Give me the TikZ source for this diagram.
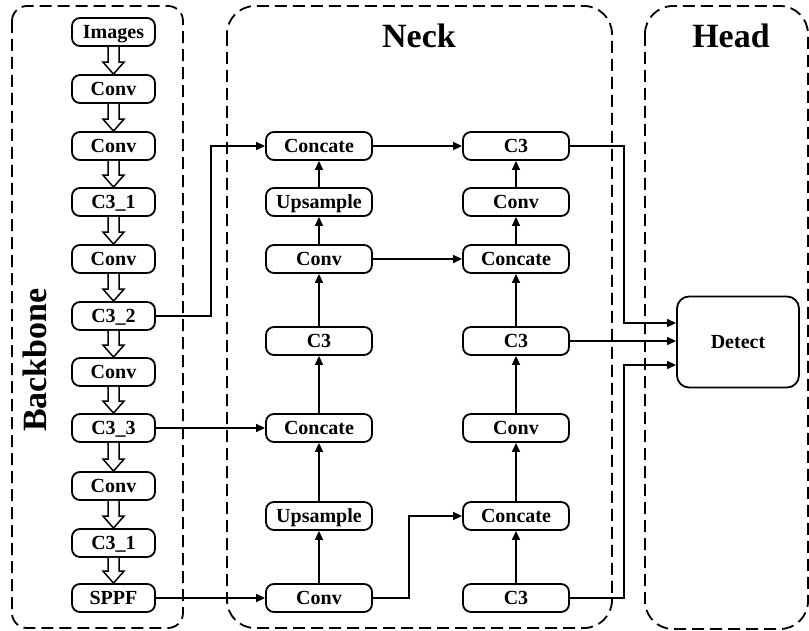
\documentclass[tikz,border=0pt]{standalone}
\usepackage{fontspec}
\setmainfont{Liberation Serif}
\usetikzlibrary{arrows.meta, calc}

\begin{document}
\begin{tikzpicture}[x=0.5pt, y=-0.5pt,
    box/.style={rectangle, draw, line width=0.9pt, rounded corners=4pt,
                minimum width=41.5pt, minimum height=14pt, inner sep=0pt,
                text height=6.8pt, text depth=0pt,
                font=\fontsize{10}{12}\selectfont\bfseries},
    wbox/.style={box, minimum width=53pt},
    frame/.style={line width=0.9pt, dash pattern=on 6pt off 3pt},
    arrow/.style={-{Triangle[length=4.5pt, width=4pt]}, line width=0.7pt},
    hollow/.style={draw, line width=0.75pt, fill=white, line join=miter},
    head/.style={font=\fontsize{17}{20}\selectfont\bfseries},
  ]
  \useasboundingbox (0,0) rectangle (809,631);

  % Column x-centres (pixel units, y grows downwards)
  \def\xB{113.5}  % Backbone
  \def\xN{319}    % Neck, left column
  \def\xM{516}    % Neck, right column

  % ── Frames and titles ───────────────────────────────────────────────
  \draw[frame, rounded corners=7.5pt] (12,6) rectangle (183,628);
  \draw[frame, rounded corners=14pt] (227,6) rectangle (612,628);
  \draw[frame, rounded corners=14pt] (645,6) rectangle (808,629);

  \node[head, rotate=90] (tB) at (35,360) {Backbone};
  \node[head] (tN) at (419,36) {Neck};
  \node[head] (tH) at (731,36) {Head};

  % ── Backbone ────────────────────────────────────────────────────────
  \node[box] (b1)  at (\xB,32)  {Images};
  \node[box] (b2)  at (\xB,89)  {Conv};
  \node[box] (b3)  at (\xB,146) {Conv};
  \node[box] (b4)  at (\xB,202) {C3\_1};
  \node[box] (b5)  at (\xB,259) {Conv};
  \node[box] (b6)  at (\xB,316) {C3\_2};
  \node[box] (b7)  at (\xB,372) {Conv};
  \node[box] (b8)  at (\xB,428) {C3\_3};
  \node[box] (b9)  at (\xB,486) {Conv};
  \node[box] (b10) at (\xB,543) {C3\_1};
  \node[box] (b11) at (\xB,598) {SPPF};

  % hollow block arrows down the backbone
  \foreach \a/\b in {b1/b2, b2/b3, b3/b4, b4/b5, b5/b6, b6/b7, b7/b8,
                     b8/b9, b9/b10, b10/b11}
    \draw[hollow] ($(\a.south)+(-5.5,0)$) -- ($(\b.north)+(-5.5,-12)$)
      -- ($(\b.north)+(-10.5,-12)$) -- (\b.north)
      -- ($(\b.north)+(10.5,-12)$) -- ($(\b.north)+(5.5,-12)$)
      -- ($(\a.south)+(5.5,0)$);

  % ── Neck ────────────────────────────────────────────────────────────
  \node[wbox] (n1) at (\xN,146) {Concate};
  \node[wbox] (n2) at (\xN,202) {Upsample};
  \node[wbox] (n3) at (\xN,259) {Conv};
  \node[wbox] (n4) at (\xN,341) {C3};
  \node[wbox] (n5) at (\xN,428) {Concate};
  \node[wbox] (n6) at (\xN,516) {Upsample};
  \node[wbox] (n7) at (\xN,598) {Conv};

  \node[wbox] (m1) at (\xM,146) {C3};
  \node[wbox] (m2) at (\xM,202) {Conv};
  \node[wbox] (m3) at (\xM,259) {Concate};
  \node[wbox] (m4) at (\xM,341) {C3};
  \node[wbox] (m5) at (\xM,428) {Conv};
  \node[wbox] (m6) at (\xM,516) {Concate};
  \node[wbox] (m7) at (\xM,598) {C3};

  \foreach \a/\b in {n7/n6, n6/n5, n5/n4, n4/n3, n3/n2, n2/n1,
                     m7/m6, m6/m5, m5/m4, m4/m3, m3/m2, m2/m1}
    \draw[arrow] (\a) -- (\b);

  \draw[arrow] (b6.east) -- ++(55,0) |- (n1.west);
  \draw[arrow] (b8.east) -- (n5.west);
  \draw[arrow] (b11.east) -- (n7.west);
  \draw[arrow] (n7.east) -- ++(36,0) |- (m6.west);
  \draw[arrow] (n3.east) -- (m3.west);
  \draw[arrow] (n1.east) -- (m1.west);

  % ── Head ────────────────────────────────────────────────────────────
  \node[box, minimum width=61pt, minimum height=45.5pt,
        rounded corners=6pt] (det) at (738,342) {Detect};

  \draw[arrow] (m1.east) -- ++(54,0) |- ($(det.west)+(0,-19)$);
  \draw[arrow] (m4.east) -- (m4.east -| det.west);
  \draw[arrow] (m7.east) -- ++(54,0) |- ($(det.west)+(0,23)$);

\end{tikzpicture}
\end{document}
